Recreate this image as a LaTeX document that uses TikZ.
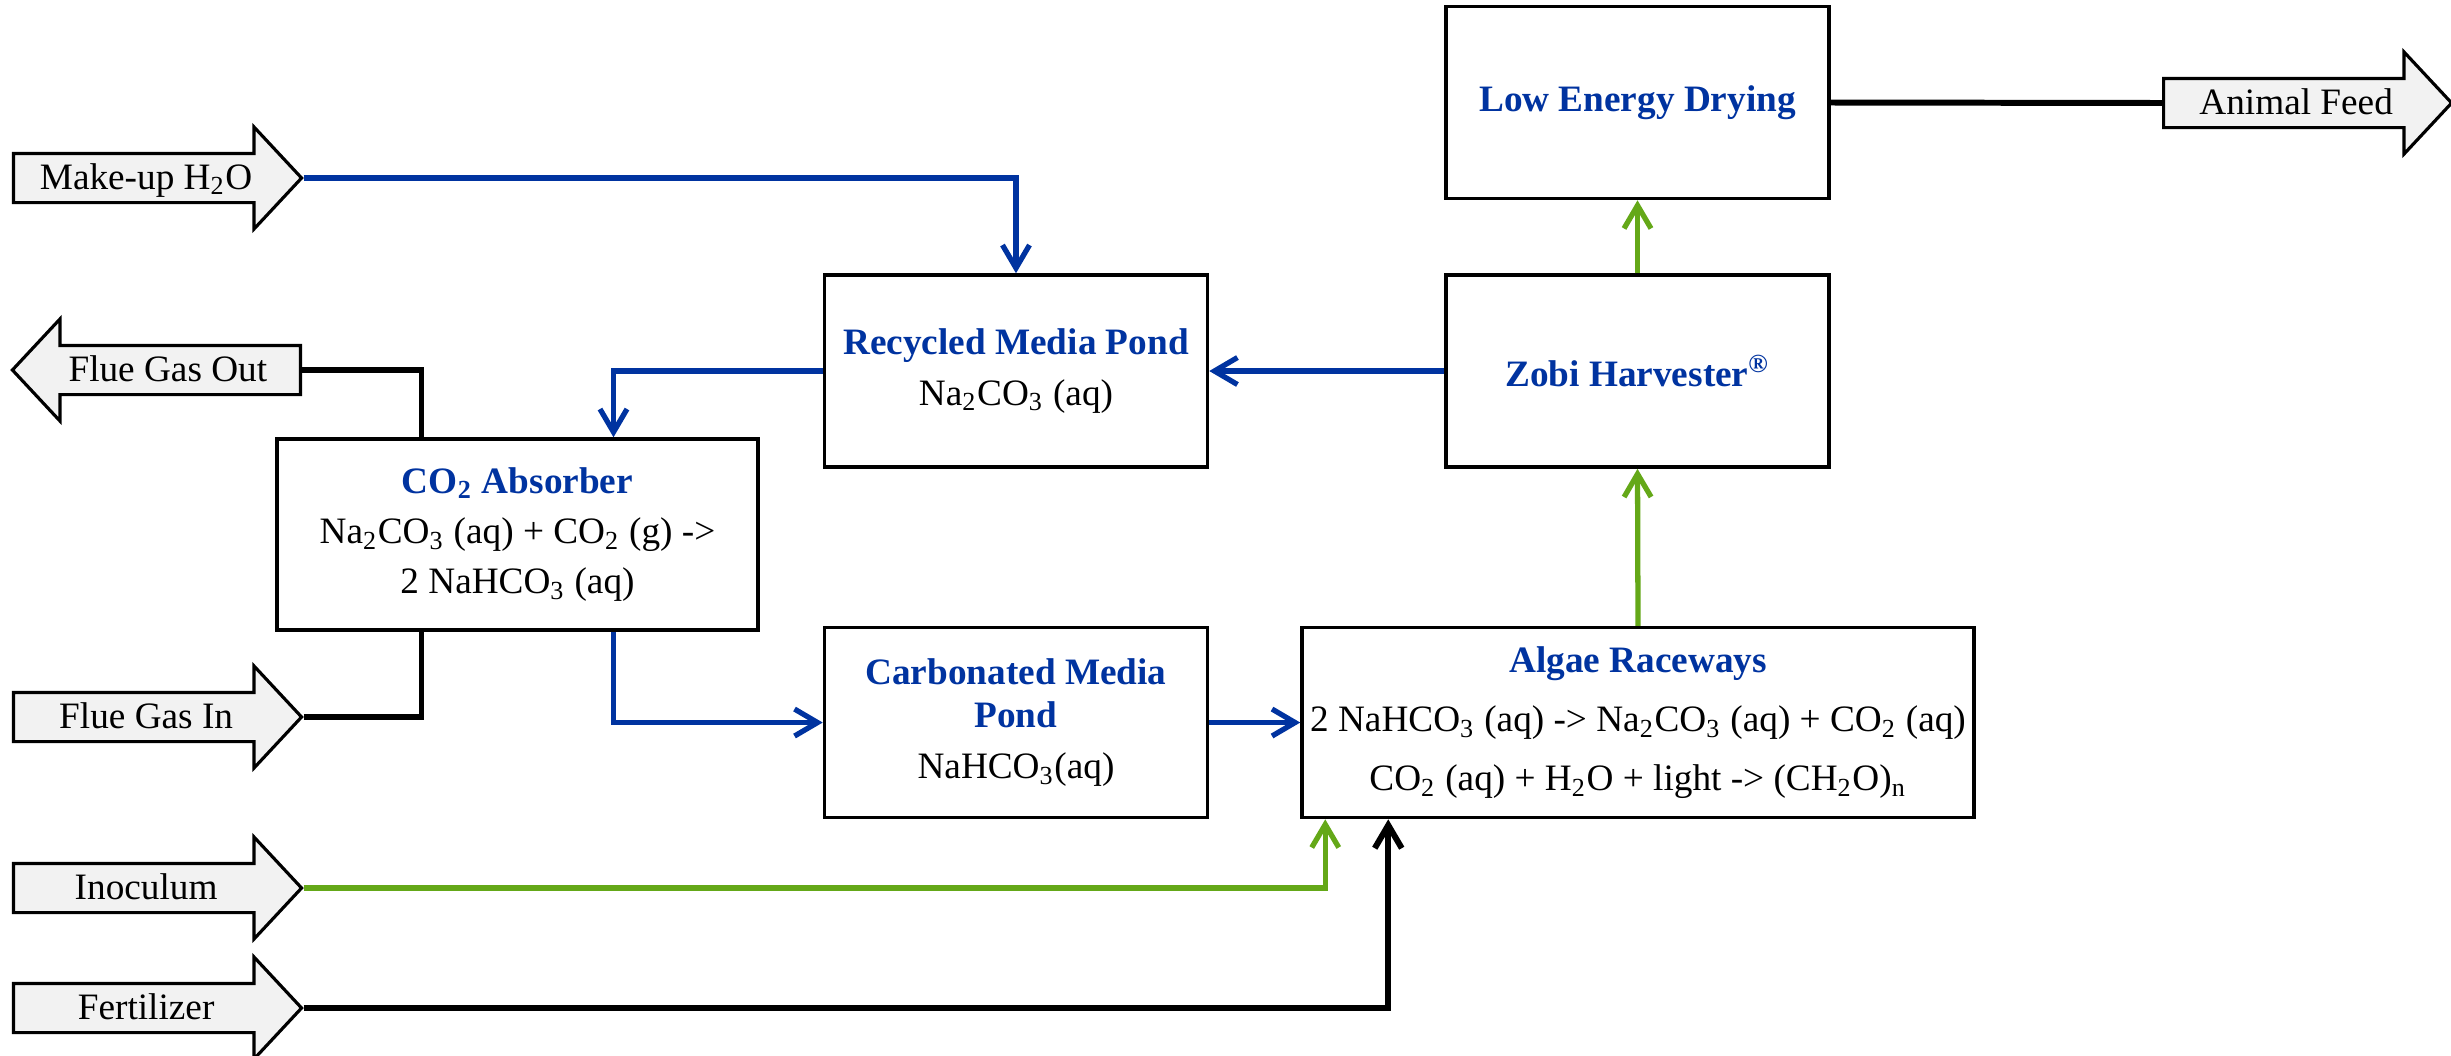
\documentclass[tikz,border=0pt]{standalone}
\usepackage{fontspec}
\setmainfont{Liberation Serif}
\usepackage{xcolor}
\usepackage{tikz}
\usetikzlibrary{arrows.meta, positioning, shapes.arrows, calc}

\definecolor{flowblue}{RGB}{0,51,160}
\definecolor{flowgreen}{RGB}{100,168,24}
\newcommand{\unitname}[1]{\textcolor{flowblue}{\textbf{#1}}}

\begin{document}
\begin{tikzpicture}[
  font=\fontsize{10.6}{14.3}\selectfont,
  proc/.style={rectangle, draw=black, line width=1pt, fill=white,
               minimum width=3.83cm, minimum height=1.92cm, align=center, inner sep=0pt},
  stream/.style={single arrow, draw=black, line width=0.9pt, fill=black!5,
                 minimum height=2.88cm, minimum width=1.0cm, single arrow head extend=2.65mm,
                 single arrow tip angle=94, inner xsep=2pt, inner ysep=0.9mm,
                 text height=2.5mm, text depth=0.3mm, anchor=tail},
  bflow/.style={-{Straight Barb[length=2.3mm, width=2.7mm]}, line width=1.5pt, flowblue},
  gflow/.style={-{Straight Barb[length=2.3mm, width=2.7mm]}, line width=1.5pt, flowgreen},
  kflow/.style={-{Straight Barb[length=2.3mm, width=2.7mm]}, line width=1.7pt, black},
  kline/.style={line width=1.7pt, black}
]
\useasboundingbox (0,0) rectangle (24.51,10.55);

% process units
\node[proc] (dry) at (16.375,9.525) {\unitname{Low Energy Drying}};
\node[proc, below=0.73cm of dry] (zobi) {\unitname{Zobi Harvester\textsuperscript{®}}};
\node[proc, left=2.35cm of zobi] (recyc) {\unitname{Recycled Media Pond}\\
  Na\textsubscript{2}CO\textsubscript{3} (aq)};
\node[proc, minimum width=4.81cm, minimum height=1.91cm] (absorb) at (5.175,5.205)
  {\unitname{CO\textsubscript{2} Absorber}\\
   Na\textsubscript{2}CO\textsubscript{3} (aq) + CO\textsubscript{2} (g) ->\\
   2 NaHCO\textsubscript{3} (aq)};
\node[proc, minimum height=1.90cm, below=1.57cm of recyc] (carb)
  {\unitname{Carbonated Media}\\[-2pt]\unitname{Pond}\\
   NaHCO\textsubscript{3}(aq)};
\node[proc, minimum width=6.72cm, minimum height=1.90cm, right=0.91cm of carb] (algae)
  {\unitname{Algae Raceways}\\[2.6pt]
   2 NaHCO\textsubscript{3} (aq) -> Na\textsubscript{2}CO\textsubscript{3} (aq) + CO\textsubscript{2} (aq)\\[2.6pt]
   CO\textsubscript{2} (aq) + H\textsubscript{2}O + light -> (CH\textsubscript{2}O)\textsubscript{n}};

% streams in and out
\node[stream] (makeup) at (0.12,8.77) {Make-up H\textsubscript{2}O};
\node[stream, shape border rotate=180] (flueout) at (3.02,6.85) {Flue Gas Out};
\node[stream] (fluein) at (0.12,3.38) {Flue Gas In};
\node[stream] (inoc) at (0.12,1.67) {Inoculum};
\node[stream] (fert) at (0.12,0.47) {Fertilizer};
\node[stream] (feed) at (21.62,9.52) {Animal Feed};

% connectors
\draw[bflow] (makeup.tip) -| (recyc.north);
\draw[bflow] (zobi.west) -- (recyc.east);
\draw[bflow] (recyc.west) -| ([xshift=9.6mm]absorb.north);
\draw[kline] ([xshift=-9.6mm]absorb.north) |- (flueout.tail);
\draw[kline] ([xshift=-9.6mm]absorb.south) |- (fluein.tip);
\draw[bflow] ([xshift=9.6mm]absorb.south) |- (carb.west);
\draw[bflow] (carb.east) -- (algae.west);
\draw[gflow] (algae.north) -- (zobi.south);
\draw[gflow] (zobi.north) -- (dry.south);
\draw[kline] (dry.east) -- (feed.tail);
\draw[gflow] (inoc.tip) -| ([xshift=2.5mm]algae.south west);
\draw[kflow] (fert.tip) -| ([xshift=8.8mm]algae.south west);
\end{tikzpicture}
\end{document}
